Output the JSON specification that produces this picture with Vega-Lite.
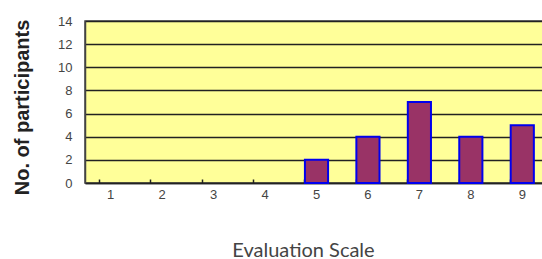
{
  "$schema": "https://vega.github.io/schema/vega-lite/v6.json",
  "width": 463,
  "height": 162,
  "autosize": "none",
  "padding": {"left": 85, "top": 21, "right": 0, "bottom": 76},
  "background": "white",
  "data": {"values": [
    {"score": "1", "count": 0},
    {"score": "2", "count": 0},
    {"score": "3", "count": 0},
    {"score": "4", "count": 0},
    {"score": "5", "count": 2},
    {"score": "6", "count": 4},
    {"score": "7", "count": 7},
    {"score": "8", "count": 4},
    {"score": "9", "count": 5}
  ]},
  "config": {
    "view": {"fill": "#FFFF99", "stroke": "#444", "strokeWidth": 1.5},
    "font": "Liberation Sans"
  },
  "mark": {"type": "bar", "fill": "#993366", "stroke": "#0000EE", "strokeWidth": 2},
  "encoding": {
    "x": {
      "field": "score", "type": "ordinal",
      "scale": {"paddingInner": 0.55, "paddingOuter": 0.275},
      "axis": {
        "title": "Evaluation Scale",
        "titleFont": "Lato", "titleFontWeight": "normal", "titleFontSize": 20, "titleColor": "#444",
        "titleX": 218, "titleY": 67, "titleBaseline": "middle", "titleAnchor": "middle", "titleAlign": "center",
        "labelAngle": 0, "labelFontSize": 13, "labelColor": "#444", "labelPadding": 9,
        "domainColor": "#222", "domainWidth": 1.5,
        "bandPosition": 0, "tickSize": -4, "tickColor": "#222", "tickWidth": 1.5
      }
    },
    "y": {
      "field": "count", "type": "quantitative",
      "scale": {"domain": [0, 14], "nice": false},
      "axis": {
        "title": "No. of participants",
        "titleFont": "Liberation Sans", "titleFontWeight": "bold", "titleFontSize": 20, "titleColor": "#222",
        "titleX": -63, "titleY": 86, "titleBaseline": "middle", "titleAngle": -90, "titleAlign": "center",
        "values": [0, 2, 4, 6, 8, 10, 12, 14],
        "labelFontSize": 13, "labelColor": "#444", "labelPadding": 13,
        "ticks": false, "domainColor": "#444", "domainWidth": 1.5,
        "grid": true, "gridColor": "#222", "gridWidth": 1.3
      }
    },
    "strokeOpacity": {
      "condition": {"test": "datum.count == 0", "value": 0},
      "value": 1
    }
  }
}
